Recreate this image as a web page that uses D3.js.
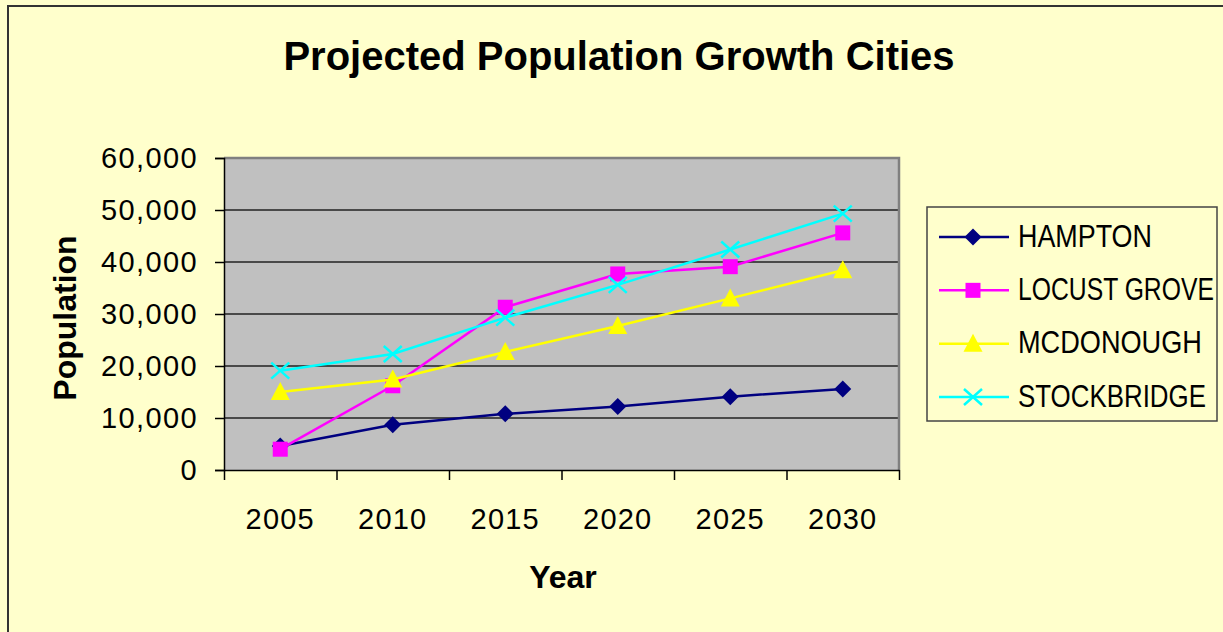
<!DOCTYPE html>
<html>
<head>
<meta charset="utf-8">
<script src="https://cdn.jsdelivr.net/npm/d3@7"></script>
<style>
  body { margin: 0; background: #ffffcc; overflow: hidden; }
  text { font-family: "Liberation Sans", Arial, sans-serif; }
</style>
</head>
<body>
<script>
// Chart data
const years = ["2005", "2010", "2015", "2020", "2025", "2030"];
const cities = ["HAMPTON", "LOCUST GROVE", "MCDONOUGH", "STOCKBRIDGE"];
const hampton = [4600, 8700, 10800, 12200, 14100, 15600];
const locustGrove = [4000, 16200, 31300, 37700, 39100, 45600];
const mcdonough = [15000, 17400, 22700, 27700, 33000, 38400];
const stockbridge = [19100, 22300, 29300, 35600, 42400, 49300];
const yTicks = [0, 10000, 20000, 30000, 40000, 50000, 60000];

const seriesValues = [hampton, locustGrove, mcdonough, stockbridge];
const colors = ["#000080", "#ff00ff", "#ffff00", "#00ffff"];
const markers = ["diamond", "square", "triangle", "cross"];
const legendTextWidths = [134, 196, 184, 188];

let width = 1223, height = 632;
let plot = { left: 224, right: 899, top: 158, bottom: 470 };

let svg = d3.select('body')
    .append('svg')
    .attr('width', width)
    .attr('height', height);

// chart frame
svg.append('rect')
    .attr('x', 8).attr('y', 6)
    .attr('width', 1400).attr('height', 800)
    .attr('fill', '#ffffcc')
    .attr('stroke', '#333')
    .attr('stroke-width', 2);

// title
svg.append('text')
    .attr('x', 619).attr('y', 70)
    .attr('text-anchor', 'middle')
    .style('font-size', '40px')
    .style('font-weight', 'bold')
    .text('Projected Population Growth Cities');

// scales
let xScale = d3.scaleBand()
    .domain(years)
    .range([plot.left, plot.right]);

let xEdge = d3.scaleLinear()
    .domain([0, years.length])
    .range([plot.left, plot.right]);

let yScale = d3.scaleLinear()
    .domain([0, 60000])
    .range([plot.bottom, plot.top]);

// plot area
svg.append('rect')
    .attr('x', plot.left).attr('y', plot.top)
    .attr('width', plot.right - plot.left)
    .attr('height', plot.bottom - plot.top)
    .attr('fill', '#c0c0c0');

// gridlines
svg.append('g')
    .selectAll('line')
    .data(yTicks.slice(1, -1))
    .enter()
    .append('line')
    .attr('x1', plot.left).attr('x2', plot.right)
    .attr('y1', d => yScale(d)).attr('y2', d => yScale(d))
    .attr('stroke', '#222')
    .attr('stroke-width', 1.3);

// top and right border of plot area
svg.append('path')
    .attr('d', `M${plot.left},${plot.top}H${plot.right}V${plot.bottom}`)
    .attr('fill', 'none')
    .attr('stroke', '#808080')
    .attr('stroke-width', 2.5);

// y axis
let yAxis = svg.append('g')
    .attr('transform', `translate(${plot.left}, 0)`)
    .call(d3.axisLeft(yScale)
        .tickValues(yTicks)
        .tickSize(9)
        .tickPadding(17)
        .tickFormat(d3.format(',')));

yAxis.selectAll('text')
    .style('font-size', '29px')
    .style('letter-spacing', '1.4px')
    .attr('font-family', null)
    .attr('fill', '#000');
yAxis.selectAll('line, path').attr('stroke', '#000').attr('stroke-width', 1.5);

// x axis: boundary ticks
let xAxis = svg.append('g')
    .attr('transform', `translate(0, ${plot.bottom})`)
    .call(d3.axisBottom(xEdge)
        .tickValues(d3.range(years.length + 1))
        .tickSize(10)
        .tickSizeOuter(0)
        .tickFormat(''));
xAxis.selectAll('line, path').attr('stroke', '#000').attr('stroke-width', 1.5);

// x axis: labels at category centers
let xLabels = svg.append('g')
    .attr('transform', `translate(0, ${plot.bottom})`)
    .call(d3.axisBottom(xScale).tickSize(0).tickPadding(38));
xLabels.select('.domain').remove();
xLabels.selectAll('text')
    .style('font-size', '29px')
    .style('letter-spacing', '1.2px')
    .attr('font-family', null)
    .attr('fill', '#000');

// axis titles
svg.append('text')
    .attr('x', 563).attr('y', 588)
    .attr('text-anchor', 'middle')
    .style('font-size', '32px')
    .style('font-weight', 'bold')
    .text('Year');

svg.append('text')
    .attr('transform', 'translate(76, 318) rotate(-90)')
    .attr('text-anchor', 'middle')
    .style('font-size', '32px')
    .style('font-weight', 'bold')
    .text('Population');

// marker drawing
function drawMarker(g, type, color) {
    if (type === 'diamond') {
        g.append('path').attr('d', 'M0,-8.5L8.5,0L0,8.5L-8.5,0Z').attr('fill', color);
    } else if (type === 'square') {
        g.append('rect').attr('x', -7.5).attr('y', -7.5).attr('width', 15).attr('height', 15)
            .attr('fill', color);
    } else if (type === 'triangle') {
        g.append('path').attr('d', 'M0,-10L9.5,8L-9.5,8Z').attr('fill', color);
    } else {
        g.append('path').attr('d', 'M-9,-8L9,8M-9,8L9,-8')
            .attr('stroke', color).attr('stroke-width', 2.5).attr('fill', 'none');
    }
}

let line = d3.line()
    .x((d, i) => xScale(years[i]) + xScale.bandwidth() / 2)
    .y(d => yScale(d));

seriesValues.forEach((values, s) => {
    svg.append('path')
        .datum(values)
        .attr('d', line)
        .attr('fill', 'none')
        .attr('stroke', colors[s])
        .attr('stroke-width', 2.5);

    values.forEach((v, i) => {
        let g = svg.append('g')
            .attr('transform', `translate(${xScale(years[i]) + xScale.bandwidth() / 2}, ${yScale(v)})`);
        drawMarker(g, markers[s], colors[s]);
    });
});

// legend
let legend = svg.append('g').attr('transform', 'translate(927, 207)');
legend.append('rect')
    .attr('width', 290).attr('height', 214)
    .attr('fill', '#ffffcc')
    .attr('stroke', '#444')
    .attr('stroke-width', 1.5);

let legendY = d3.scalePoint()
    .domain(cities)
    .range([30, 190]);

cities.forEach((c, s) => {
    let y = legendY(c);
    legend.append('line')
        .attr('x1', 12).attr('x2', 82)
        .attr('y1', y).attr('y2', y)
        .attr('stroke', colors[s])
        .attr('stroke-width', 2.5);
    let g = legend.append('g').attr('transform', `translate(46, ${y})`);
    drawMarker(g, markers[s], colors[s]);
    // condensed label: squeeze horizontally to the reference width
    let t = legend.append('text')
        .style('font-size', '32px')
        .text(c);
    let natural = t.node().getComputedTextLength();
    t.attr('transform', `translate(91, ${y + 9.5}) scale(${legendTextWidths[s] / natural}, 1)`);
});
</script>
</body>
</html>
